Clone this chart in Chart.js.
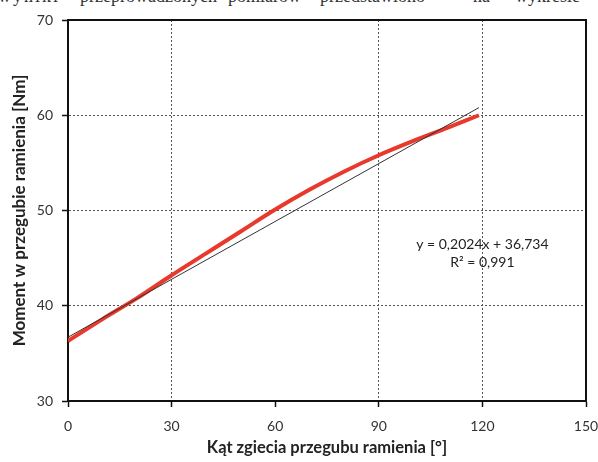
<!DOCTYPE html>
<html>
<head>
<meta charset="utf-8">
<script src="https://cdn.jsdelivr.net/npm/chart.js@4.4.0/dist/chart.umd.min.js"></script>
<style>
  html, body { margin: 0; padding: 0; background: #fff; }
  #wrap { position: relative; width: 598px; height: 462px; overflow: hidden; }
  .scan { position: absolute; top: -13px; font-family: "Liberation Serif", serif; font-size: 18px; line-height: 18px; color: #333; white-space: nowrap; }
  canvas { position: absolute; left: 0; top: 0; }
</style>
</head>
<body>
<div id="wrap">
  <span class="scan" style="left:-2px;letter-spacing:2px">wyniki</span>
  <span class="scan" style="left:80px">przeprowadzonych</span>
  <span class="scan" style="left:228px">pomiarów</span>
  <span class="scan" style="left:320px">przedstawiono</span>
  <span class="scan" style="left:473px">na</span>
  <span class="scan" style="left:515px">wykresie</span>
  <canvas id="myChart" width="598" height="462"></canvas>
</div>
<script>
// measured curve (angle in degrees, moment in Nm)
const angles = [0, 10, 20, 30, 40, 50, 60, 70, 80, 90, 100, 110, 119];
const moments = [36.3, 38.6, 40.8, 43.2, 45.5, 47.8, 50.1, 52.2, 54.1, 55.8, 57.3, 58.7, 60.0];

// linear trend line end points
const trendX = [0, 119];
const trendY = [36.7, 60.8];

const xTicks = [0, 30, 60, 90, 120, 150];
const yTicks = [30, 40, 50, 60, 70];
const xGridAt = [30, 90, 120];
const yGridAt = [40, 50, 60];

const equationText = "y = 0,2024x + 36,734";
const r2Text = "R\u00B2 = 0,991";

const fontName = "Lato, 'Open Sans', sans-serif";

document.addEventListener("DOMContentLoaded", function(){

  const frame = {
    id: "frame",
    afterDraw(chart){
      const {ctx, chartArea: a, scales} = chart;
      ctx.save();
      ctx.strokeStyle = "#111";
      ctx.lineWidth = 2;
      ctx.beginPath();
      ctx.moveTo(a.left, a.top);
      ctx.lineTo(a.right, a.top);
      ctx.lineTo(a.right, a.bottom);
      ctx.stroke();

      ctx.fillStyle = "#222";
      ctx.font = "14px " + fontName;
      ctx.textAlign = "center";
      ctx.textBaseline = "middle";
      const px = scales.x.getPixelForValue(120);
      const py = scales.y.getPixelForValue(46.4);
      ctx.fillText(equationText, px, py);
      ctx.fillText(r2Text, px, py + 18);
      ctx.restore();
    }
  };

  new Chart(document.getElementById("myChart"), {
    type: "line",
    data: {
      datasets: [
        {
          data: trendX.map((x, i) => ({x: x, y: trendY[i]})),
          borderColor: "#333",
          borderWidth: 1,
          pointRadius: 0,
          fill: false
        },
        {
          data: angles.map((x, i) => ({x: x, y: moments[i]})),
          borderColor: "#e8392c",
          borderWidth: 4,
          pointRadius: 0,
          cubicInterpolationMode: "monotone",
          fill: false
        }
      ]
    },
    options: {
      responsive: false,
      animation: false,
      layout: { padding: { top: 20, right: 12, left: 0, bottom: 0 } },
      plugins: { legend: { display: false }, tooltip: { enabled: false } },
      scales: {
        x: {
          type: "linear",
          min: 0,
          max: 150,
          afterBuildTicks: (scale) => { scale.ticks = xTicks.map(v => ({value: v})); },
          afterFit: (scale) => { scale.height = 61; scale.paddingRight = 0; scale.paddingLeft = 0; },
          ticks: { color: "#333", font: { family: fontName, size: 14 }, padding: 11 },
          grid: {
            color: (c) => xGridAt.includes(c.tick && c.tick.value) ? "#555" : "transparent",
            lineWidth: 1,
            tickColor: "#111",
            tickLength: 6,
            tickWidth: 1.5
          },
          border: { display: true, color: "#111", width: 2, dash: [2, 2] },
          title: {
            display: true,
            text: "Kąt zgiecia przegubu ramienia [°]",
            color: "#222",
            font: { family: fontName, size: 16.5, weight: "bold" },
            padding: { top: 0, bottom: 4 }
          }
        },
        y: {
          min: 30,
          max: 70,
          afterBuildTicks: (scale) => { scale.ticks = yTicks.map(v => ({value: v})); },
          afterFit: (scale) => { scale.width = 68; scale.paddingTop = 0; scale.paddingBottom = 0; },
          ticks: { color: "#333", font: { family: fontName, size: 14 }, padding: 9 },
          grid: {
            color: (c) => yGridAt.includes(c.tick && c.tick.value) ? "#555" : "transparent",
            lineWidth: 1,
            tickColor: "#111",
            tickLength: 6,
            tickWidth: 1.5
          },
          border: { display: true, color: "#111", width: 2, dash: [2, 2] },
          title: {
            display: true,
            text: "Moment w przegubie ramienia [Nm]",
            color: "#222",
            font: { family: fontName, size: 17, weight: "bold" },
            padding: { top: 9, bottom: 0 }
          }
        }
      }
    },
    plugins: [frame]
  });

});
</script>
</body>
</html>
